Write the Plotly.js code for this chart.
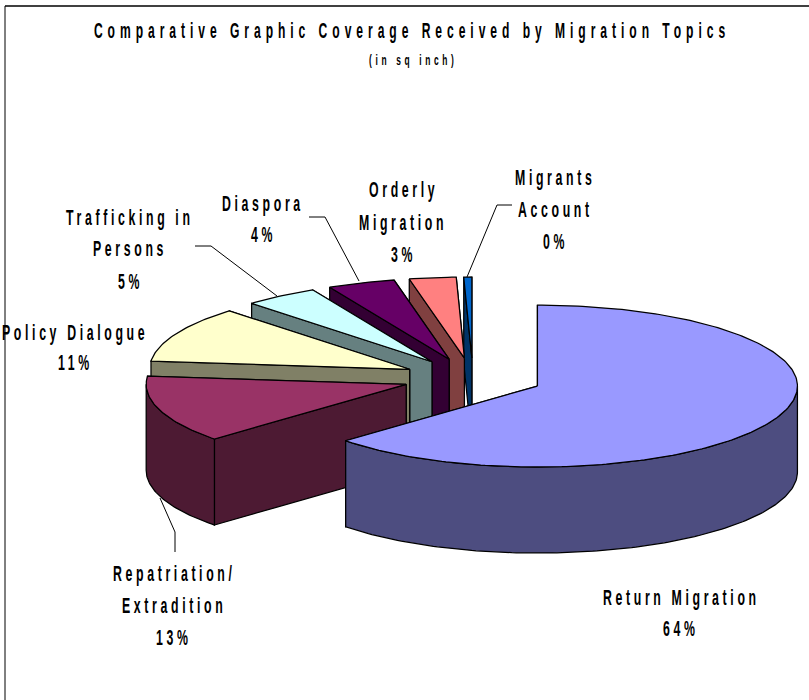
<!DOCTYPE html>
<html>
<head>
<meta charset="utf-8">
<script src="https://cdn.plot.ly/plotly-3.0.1.min.js"></script>
<style>
html,body{margin:0;padding:0;background:#fff}
.annotation-text,.gtitle{transform-box:fill-box;transform-origin:center;transform:scaleX(.56);letter-spacing:6.5px}
.gtitle{transform:scaleX(.55);letter-spacing:9px}
</style>
</head>
<body>
<div id="chart" style="width:809px;height:700px"></div>
<script>
// Data (clockwise from 12 o'clock)
var topics = ['Return Migration','Repatriation/ Extradition','Policy Dialogue','Trafficking in Persons','Diaspora','Orderly Migration','Migrants Account'];
var shares = [63.2,13.4,11.2,4.6,4.2,2.9,0.5];
var labelPct = ['64%','13%','11%','5%','4%','3%','0%'];
var topColors = ['#9999FF','#993366','#FFFFCC','#CCFFFF','#660066','#FF8080','#0066CC'];
var sideColors = ['#4D4D80','#4D1A33','#808066','#668080','#330033','#804040','#003366'];

// label lines
var labelLines = [
  ['Return Migration','64%'],
  ['Repatriation/','Extradition','13%'],
  ['Policy Dialogue','11%'],
  ['Trafficking in','Persons','5%'],
  ['Diaspora','4%'],
  ['Orderly','Migration','3%'],
  ['Migrants','Account','0%']
];
var labelX = [681,174,75,130,263,403,555];
var labelY = [[597,628],[573,605,637],[332,362],[217,249,281],[204,234],[190,223,254],[177,209,241]];
var leaders = [
  [[160,498],[175,532],[175,552]],
  [[195,246],[211,246],[277,296]],
  [[309,217],[325,217],[359,281]],
  [[512,205],[497,205],[467,277]]
];

// projection of the tilted, exploded pie (page size & geometry)
var W=809,H=700,CX=473,CY=378,R=260;
var FLAT=81/260,DEPTH=86/260,EX=70.4/260,EY=20/260;
function rad(d){return d*Math.PI/180;}
function px(x){return x/W;}
function py(y){return 1-y/H;}

var total=shares.reduce(function(a,b){return a+b;},0);
var slices=[],acc=0;
shares.forEach(function(v,i){
  var a0=acc/total*360,a1=(acc+v)/total*360;acc+=v;
  var mid=rad((a0+a1)/2);
  slices.push({i:i,a0:a0,a1:a1,ox:EX*Math.sin(mid),oy:EY*Math.cos(mid)});
});
function rim(s,t,drop){return [s.ox+Math.sin(rad(t)),s.oy+FLAT*Math.cos(rad(t))-(drop||0)];}
function poly(pts,color,name){
  return {type:'scatter',mode:'lines',x:pts.map(function(p){return p[0];}),y:pts.map(function(p){return p[1];}),
    fill:'toself',fillcolor:color,line:{color:'#000',width:1.25},hoverinfo:'text',text:name,showlegend:false,name:name};
}
function arc(s,a,b,drop){
  var pts=[],n=Math.max(2,Math.ceil(Math.abs(b-a)));
  for(var k=0;k<=n;k++){pts.push(rim(s,a+(b-a)*k/n,drop));}
  return pts;
}
var traces=[];
slices.slice().reverse().forEach(function(s){
  var i=s.i,name=topics[i]+' '+labelPct[i];
  var ap=[s.ox,s.oy],apD=[s.ox,s.oy-DEPTH];
  // cut faces
  traces.push(poly([ap,rim(s,s.a1),rim(s,s.a1,DEPTH),apD,ap],sideColors[i],name));
  traces.push(poly([ap,rim(s,s.a0),rim(s,s.a0,DEPTH),apD,ap],sideColors[i],name));
  // outer wall, front half only
  var f0=Math.max(s.a0,90),f1=Math.min(s.a1,270);
  if(f1>f0){
    traces.push(poly(arc(s,f0,f1).concat(arc(s,f1,f0,DEPTH)).concat([rim(s,f0)]),sideColors[i],name));
  }
  // top surface
  traces.push(poly([ap].concat(arc(s,s.a0,s.a1)).concat([ap]),topColors[i],name));
});

var FONT='"Liberation Sans",Arial,sans-serif';
var annotations=[{xref:'paper',yref:'paper',x:px(413),y:py(59),xanchor:'center',yanchor:'middle',showarrow:false,
  text:'<b>(in sq inch)</b>',font:{family:FONT,size:15,color:'#000'}}];
labelLines.forEach(function(lines,i){
  lines.forEach(function(t,j){
    annotations.push({xref:'paper',yref:'paper',x:px(labelX[i]),y:py(labelY[i][j]),xanchor:'center',yanchor:'middle',showarrow:false,
      text:'<b>'+t+'</b>',font:{family:FONT,size:22,color:'#000'}});
  });
});
var shapes=[
  {type:'line',xref:'paper',yref:'paper',x0:px(5),x1:px(809),y0:py(6),y1:py(6),line:{color:'#000',width:1.5}},
  {type:'line',xref:'paper',yref:'paper',x0:px(5),x1:px(5),y0:py(6),y1:py(700),line:{color:'#000',width:1}}
];
leaders.forEach(function(l){
  for(var k=0;k<l.length-1;k++){
    shapes.push({type:'line',xref:'paper',yref:'paper',x0:px(l[k][0]),y0:py(l[k][1]),x1:px(l[k+1][0]),y1:py(l[k+1][1]),line:{color:'#000',width:1}});
  }
});
var layout={
  width:W,height:H,margin:{l:0,r:0,t:0,b:0},paper_bgcolor:'#fff',plot_bgcolor:'#fff',showlegend:false,
  title:{text:'<b>Comparative Graphic Coverage Received by Migration Topics</b>',font:{family:FONT,size:22,color:'#000'},
    x:412/W,xanchor:'center',xref:'paper',y:1-30/H,yanchor:'middle',yref:'container'},
  xaxis:{visible:false,range:[-CX/R,(W-CX)/R],fixedrange:true},
  yaxis:{visible:false,range:[(CY-H)/R,CY/R],fixedrange:true},
  annotations:annotations,shapes:shapes
};
Plotly.newPlot('chart',traces,layout,{displayModeBar:false,staticPlot:true});
</script>
</body>
</html>
